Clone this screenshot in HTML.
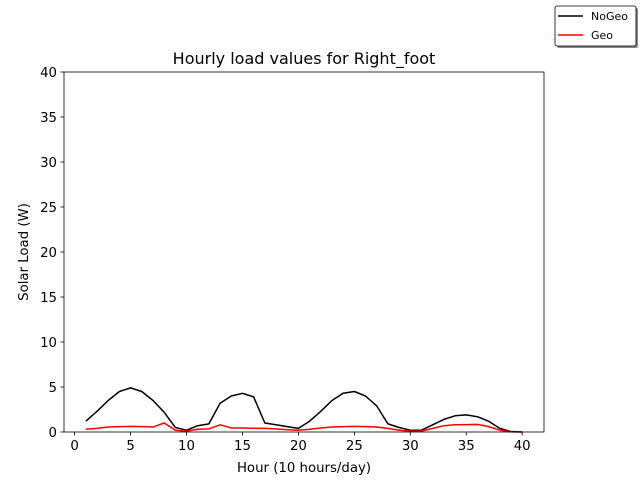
<!DOCTYPE html>
<html><head><meta charset="utf-8"><style>
body{margin:0;background:#fff;}
svg{font-family:"DejaVu Sans","Liberation Sans",sans-serif;}
</style></head><body>
<svg id="chart" width="640" height="480" xmlns="http://www.w3.org/2000/svg">
<rect width="640" height="480" fill="#fff"/>
<g id="g"></g>
</svg>
<script>
const hours = Array.from({length:40},(_,i)=>i+1);
const noGeo = [1.2,2.3,3.5,4.5,4.9,4.5,3.5,2.2,0.5,0.2,0.7,0.9,3.2,4.0,4.3,3.9,1.0,0.8,0.6,0.4,1.2,2.3,3.5,4.3,4.5,4.0,2.9,0.9,0.5,0.2,0.2,0.8,1.4,1.8,1.9,1.7,1.2,0.4,0.05,0.0];
const geo = [0.3,0.4,0.55,0.6,0.62,0.6,0.55,1.0,0.2,0.1,0.3,0.35,0.8,0.45,0.45,0.42,0.4,0.35,0.25,0.2,0.3,0.45,0.55,0.6,0.62,0.6,0.55,0.4,0.2,0.1,0.1,0.4,0.7,0.8,0.82,0.85,0.6,0.2,0.02,0.0];
const xTicks = [0,5,10,15,20,25,30,35,40];
const yTicks = [0,5,10,15,20,25,30,35,40];
const L=64,R=544,T=72,B=432,x0=-0.95,x1=41.95,y0=0,y1=40;
const sx=v=>L+(v-x0)/(x1-x0)*(R-L), sy=v=>B-(v-y0)/(y1-y0)*(B-T);
const NS='http://www.w3.org/2000/svg', g=document.getElementById('g');
function mk(t,a,txt){const e=document.createElementNS(NS,t);for(const k in a)e.setAttribute(k,a[k]);if(txt!==undefined)e.textContent=txt;g.appendChild(e);return e;}
function line(data,color,name){const p=mk('polyline',{points:data.map((v,i)=>sx(hours[i])+','+sy(v)).join(' '),fill:'none',stroke:color,'stroke-width':1.5,'stroke-linejoin':'round'});

}
line(noGeo,'#000','series-nogeo');
line(geo,'#f00','series-geo');
const fr=mk('rect',{x:L,y:T,width:R-L,height:B-T,fill:'none',stroke:'#000','stroke-width':0.8});


xTicks.forEach(v=>{const x=sx(v);mk('line',{x1:x,x2:x,y1:B,y2:B+3.5,stroke:'#000','stroke-width':0.8});
const t=mk('text',{x:x,y:B+18,'text-anchor':'middle','font-size':13.3},v);

});
yTicks.forEach(v=>{const y=sy(v);mk('line',{x1:L,x2:L-3.5,y1:y,y2:y,stroke:'#000','stroke-width':0.8});
const t=mk('text',{x:L-7,y:y+5,'text-anchor':'end','font-size':13.3},v);

});
let t=mk('text',{x:304,y:64,'text-anchor':'middle','font-size':16},'Hourly load values for Right_foot');


t=mk('text',{x:304,y:472,'text-anchor':'middle','font-size':13.3},'Hour (10 hours/day)');


t=mk('text',{x:28,y:252,'text-anchor':'middle','font-size':13.3,transform:'rotate(-90 28 252)'},'Solar Load (W)');


mk('rect',{x:557,y:8,width:81,height:40,fill:'#888',rx:2});
const lg=mk('rect',{x:555,y:6,width:81,height:40,fill:'#fff',stroke:'#000','stroke-width':0.8,rx:2});


[['NoGeo','#000',16],['Geo','#f00',35]].forEach(([n,c,y])=>{mk('line',{x1:558,x2:583,y1:y,y2:y,stroke:c,'stroke-width':1.5});
const e=mk('text',{x:591,y:y+4,'font-size':11},n);

});
</script>
</body></html>
